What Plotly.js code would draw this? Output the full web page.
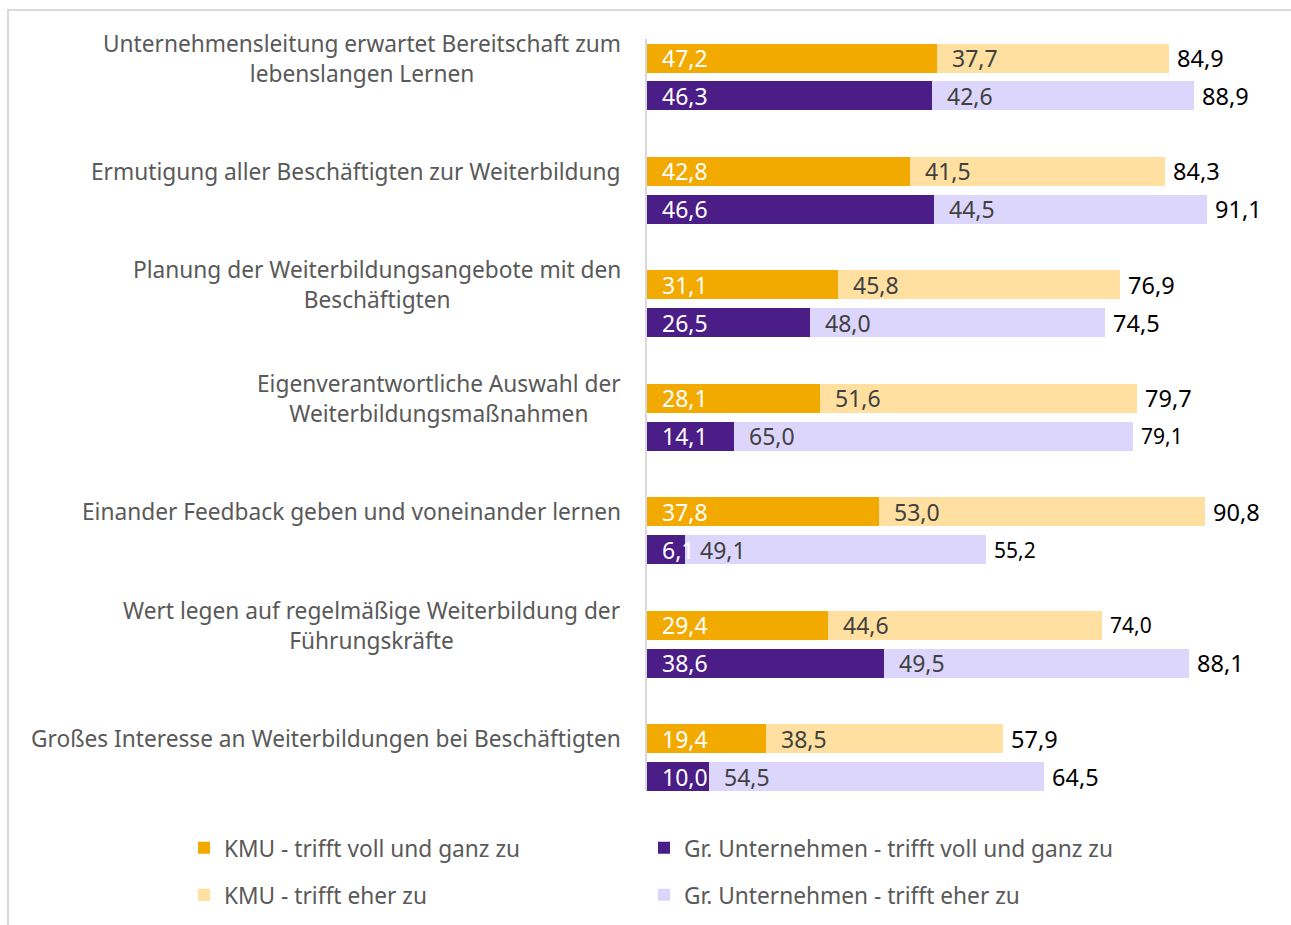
<!DOCTYPE html>
<html><head><meta charset="utf-8">
<script src="https://cdn.plot.ly/plotly-3.0.1.min.js"></script>
<style>
body{margin:0;background:#fff}
#chart{width:1291px;height:925px}
#frame{position:absolute;left:7px;top:9px;width:1400px;height:1000px;border-top:2px solid #D9D9D9;border-left:2px solid #D9D9D9;pointer-events:none}
</style>
</head><body>
<div id="chart"></div><div id="frame"></div>
<script>
const categories = [
  "Unternehmensleitung erwartet Bereitschaft zum<br>lebenslangen Lernen",
  "Ermutigung aller Beschäftigten zur Weiterbildung",
  "Planung der Weiterbildungsangebote mit den<br>Beschäftigten",
  "Eigenverantwortliche Auswahl der<br>Weiterbildungsmaßnahmen",
  "Einander Feedback geben und voneinander lernen",
  "Wert legen auf regelmäßige Weiterbildung der<br>Führungskräfte",
  "Großes Interesse an Weiterbildungen bei Beschäftigten"
];
const kmuVoll  = [47.2, 42.8, 31.1, 28.1, 37.8, 29.4, 19.4];
const kmuEher  = [37.7, 41.5, 45.8, 51.6, 53.0, 44.6, 38.5];
const kmuTotal = [84.9, 84.3, 76.9, 79.7, 90.8, 74.0, 57.9];
const grVoll   = [46.3, 46.6, 26.5, 14.1, 6.1, 38.6, 10.0];
const grEher   = [42.6, 44.5, 48.0, 65.0, 49.1, 49.5, 54.5];
const grTotal  = [88.9, 91.1, 74.5, 79.1, 55.2, 88.1, 64.5];
const seriesNames = [
  "KMU - trifft voll und ganz zu",
  "Gr. Unternehmen - trifft voll und ganz zu",
  "KMU - trifft eher zu",
  "Gr. Unternehmen - trifft eher zu"
];

// style only: font size of the total labels (the reference draws a few smaller)
const kmuTotalSize = [23.5, 23.5, 23.5, 23.5, 23.5, 21, 23.5];
const grTotalSize  = [23.5, 23.5, 23.5, 21, 21, 23.5, 23.5];

const C_KV = "#F2A900", C_KE = "#FFE0A0", C_GV = "#4A1D87", C_GE = "#DDD6FC";
const OFF = 0.1674, BW = 0.2555;
const FONT = "Noto Sans, sans-serif";
const kmuY = categories.map((c, i) => i - OFF);
const grY  = categories.map((c, i) => i + OFF);
const fmt = v => v.toFixed(1).replace(".", ",");

function bar(name, x, y, color, legend) {
  return {type: "bar", orientation: "h", name: name, x: x, y: y, width: BW,
    marker: {color: color, line: {width: 0}}, hoverinfo: "skip", legend: legend};
}
const traces = [
  bar(seriesNames[0], kmuVoll, kmuY, C_KV, "legend"),
  bar(seriesNames[1], grVoll, grY, C_GV, "legend2"),
  bar(seriesNames[2], kmuEher, kmuY, C_KE, "legend3"),
  bar(seriesNames[3], grEher, grY, C_GE, "legend4")
];

const ann = [];
function segLabel(base, val, y, color) {
  ann.push({x: base, y: y, xref: "x", yref: "y", text: fmt(val), showarrow: false,
    xanchor: "left", yanchor: "middle", xshift: 13,
    font: {family: FONT, size: 23, color: color}});
}
function totLabel(val, y, size) {
  ann.push({x: val, y: y, xref: "x", yref: "y", text: fmt(val), showarrow: false,
    xanchor: "left", yanchor: "middle", xshift: 6,
    font: {family: FONT, size: size, color: "#000000"}});
}
categories.forEach((c, i) => {
  ann.push({x: 0, y: kmuY[i], xref: "x", yref: "y", text: c, showarrow: false,
    xanchor: "right", yanchor: "middle", xshift: -24, align: "center",
    font: {family: FONT, size: 22.7, color: "#595959"}});
  segLabel(0, kmuVoll[i], kmuY[i], "#FFFFFF");
  segLabel(kmuVoll[i], kmuEher[i], kmuY[i], "#404040");
  segLabel(0, grVoll[i], grY[i], "#FFFFFF");
  segLabel(grVoll[i], grEher[i], grY[i], "#404040");
  totLabel(kmuTotal[i], kmuY[i], kmuTotalSize[i]);
  totLabel(grTotal[i], grY[i], grTotalSize[i]);
});

const legBase = {orientation: "h", xref: "container", yref: "container",
  xanchor: "left", yanchor: "middle",
  font: {family: FONT, size: 22.7, color: "#595959"}, bgcolor: "rgba(0,0,0,0)"};
const col1 = 184 / 1291, col2 = 644 / 1291, row1 = 1 - 848 / 925, row2 = 1 - 895 / 925;

const layout = {
  width: 1291, height: 925,
  margin: {l: 647, r: 29, t: 39, b: 134},
  paper_bgcolor: "#FFFFFF", plot_bgcolor: "#FFFFFF",
  barmode: "stack",
  showlegend: true,
  xaxis: {range: [0, 100], visible: false, fixedrange: true},
  yaxis: {range: [6.295, -0.335], showline: true, linecolor: "#D9D9D9", linewidth: 2,
    showticklabels: false, showgrid: false, zeroline: false, ticks: "", fixedrange: true},
  legend:  Object.assign({}, legBase, {x: col1, y: row1}),
  legend2: Object.assign({}, legBase, {x: col2, y: row1}),
  legend3: Object.assign({}, legBase, {x: col1, y: row2}),
  legend4: Object.assign({}, legBase, {x: col2, y: row2}),
  annotations: ann
};
Plotly.newPlot("chart", traces, layout, {displayModeBar: false, staticPlot: true});
</script>
</body></html>
